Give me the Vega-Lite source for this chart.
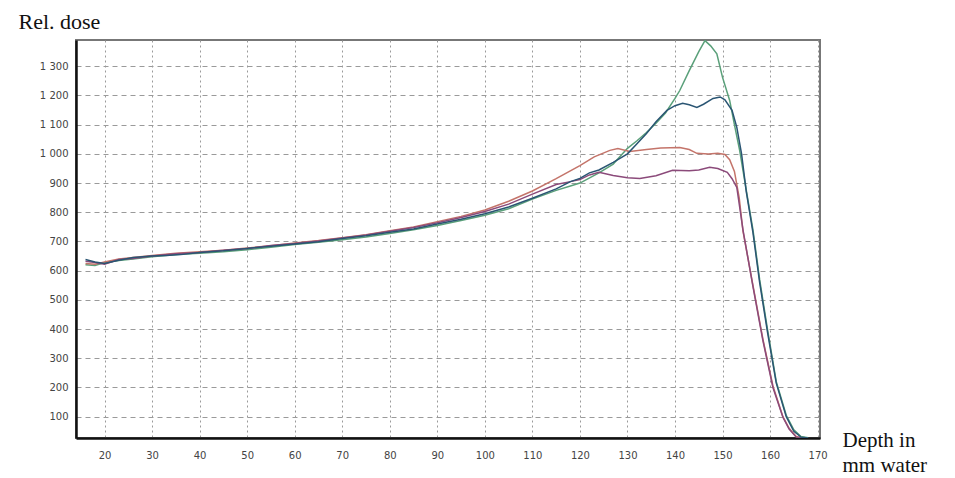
{
  "$schema": "https://vega.github.io/schema/vega-lite/v6.json",
  "width": 744,
  "height": 398,
  "autosize": {"type": "none"},
  "padding": {"left": 76, "top": 40, "right": 135, "bottom": 40},
  "background": "white",
  "config": {
    "view": {"stroke": "#777777", "strokeWidth": 2},
    "axis": {"labelFont": "DejaVu Sans", "labelFontSize": 10, "labelColor": "#444444", "ticks": false, "gridColor": "#9a9a9a", "gridWidth": 1, "domainColor": "#111111", "domainWidth": 2.5}
  },
  "data": {"values": [
    {"s":"g","x":16,"y":620},{"s":"g","x":18,"y":618},{"s":"g","x":20,"y":628},{"s":"g","x":23,"y":635},{"s":"g","x":26,"y":640},{"s":"g","x":30,"y":648},{"s":"g","x":35,"y":655},{"s":"g","x":40,"y":660},{"s":"g","x":45,"y":665},{"s":"g","x":50,"y":672},{"s":"g","x":55,"y":680},{"s":"g","x":60,"y":690},{"s":"g","x":65,"y":697},{"s":"g","x":70,"y":706},{"s":"g","x":75,"y":715},{"s":"g","x":80,"y":727},{"s":"g","x":85,"y":740},{"s":"g","x":90,"y":755},{"s":"g","x":95,"y":772},{"s":"g","x":100,"y":790},{"s":"g","x":105,"y":812},{"s":"g","x":110,"y":845},{"s":"g","x":115,"y":875},{"s":"g","x":118,"y":890},{"s":"g","x":120,"y":900},{"s":"g","x":124,"y":935},{"s":"g","x":127,"y":965},{"s":"g","x":130,"y":1019},{"s":"g","x":132,"y":1045},{"s":"g","x":134,"y":1073},{"s":"g","x":136,"y":1105},{"s":"g","x":138,"y":1140},{"s":"g","x":140,"y":1190},{"s":"g","x":141,"y":1217},{"s":"g","x":143,"y":1285},{"s":"g","x":145,"y":1350},{"s":"g","x":146.3,"y":1388},{"s":"g","x":147.5,"y":1370},{"s":"g","x":148.8,"y":1343},{"s":"g","x":150,"y":1262},{"s":"g","x":151.5,"y":1183},{"s":"g","x":152.5,"y":1100},{"s":"g","x":153.6,"y":1012},{"s":"g","x":155,"y":875},{"s":"g","x":156.4,"y":740},{"s":"g","x":157.8,"y":570},{"s":"g","x":159.5,"y":395},{"s":"g","x":161.3,"y":220},{"s":"g","x":163.4,"y":105},{"s":"g","x":165,"y":55},{"s":"g","x":166.5,"y":32},{"s":"g","x":168,"y":28},
    {"s":"r","x":16,"y":625},{"s":"r","x":18,"y":622},{"s":"r","x":20,"y":630},{"s":"r","x":23,"y":640},{"s":"r","x":26,"y":645},{"s":"r","x":30,"y":652},{"s":"r","x":35,"y":660},{"s":"r","x":40,"y":665},{"s":"r","x":45,"y":670},{"s":"r","x":50,"y":678},{"s":"r","x":55,"y":685},{"s":"r","x":60,"y":695},{"s":"r","x":65,"y":703},{"s":"r","x":70,"y":713},{"s":"r","x":75,"y":723},{"s":"r","x":80,"y":737},{"s":"r","x":85,"y":750},{"s":"r","x":90,"y":768},{"s":"r","x":95,"y":786},{"s":"r","x":100,"y":808},{"s":"r","x":105,"y":838},{"s":"r","x":110,"y":873},{"s":"r","x":115,"y":915},{"s":"r","x":120,"y":960},{"s":"r","x":123,"y":990},{"s":"r","x":126.3,"y":1012},{"s":"r","x":128,"y":1018},{"s":"r","x":130.5,"y":1008},{"s":"r","x":134,"y":1015},{"s":"r","x":137,"y":1020},{"s":"r","x":141,"y":1022},{"s":"r","x":143,"y":1015},{"s":"r","x":144.6,"y":1002},{"s":"r","x":147,"y":1000},{"s":"r","x":149,"y":1002},{"s":"r","x":150.5,"y":998},{"s":"r","x":151.5,"y":980},{"s":"r","x":152.5,"y":940},{"s":"r","x":153.5,"y":850},{"s":"r","x":154.3,"y":735},{"s":"r","x":156.4,"y":550},{"s":"r","x":158.5,"y":365},{"s":"r","x":160.6,"y":205},{"s":"r","x":162.7,"y":100},{"s":"r","x":164,"y":60},{"s":"r","x":165.5,"y":32},{"s":"r","x":167,"y":27},
    {"s":"p","x":16,"y":632},{"s":"p","x":18,"y":628},{"s":"p","x":20,"y":622},{"s":"p","x":23,"y":638},{"s":"p","x":26,"y":642},{"s":"p","x":30,"y":650},{"s":"p","x":35,"y":658},{"s":"p","x":40,"y":662},{"s":"p","x":45,"y":670},{"s":"p","x":50,"y":676},{"s":"p","x":55,"y":686},{"s":"p","x":60,"y":693},{"s":"p","x":65,"y":702},{"s":"p","x":70,"y":712},{"s":"p","x":75,"y":722},{"s":"p","x":80,"y":735},{"s":"p","x":85,"y":748},{"s":"p","x":90,"y":764},{"s":"p","x":95,"y":782},{"s":"p","x":100,"y":803},{"s":"p","x":105,"y":828},{"s":"p","x":110,"y":862},{"s":"p","x":115,"y":895},{"s":"p","x":118,"y":905},{"s":"p","x":120,"y":912},{"s":"p","x":122,"y":928},{"s":"p","x":124,"y":937},{"s":"p","x":127,"y":926},{"s":"p","x":130,"y":918},{"s":"p","x":132.6,"y":916},{"s":"p","x":136,"y":925},{"s":"p","x":139.5,"y":944},{"s":"p","x":143,"y":942},{"s":"p","x":145,"y":945},{"s":"p","x":147.3,"y":954},{"s":"p","x":149,"y":950},{"s":"p","x":151,"y":937},{"s":"p","x":152,"y":915},{"s":"p","x":153,"y":885},{"s":"p","x":154.3,"y":740},{"s":"p","x":156.4,"y":545},{"s":"p","x":158.5,"y":360},{"s":"p","x":160.6,"y":200},{"s":"p","x":162.7,"y":98},{"s":"p","x":164,"y":58},{"s":"p","x":165.5,"y":30},{"s":"p","x":167,"y":27},
    {"s":"b","x":16,"y":638},{"s":"b","x":18,"y":630},{"s":"b","x":20,"y":625},{"s":"b","x":23,"y":636},{"s":"b","x":26,"y":645},{"s":"b","x":30,"y":650},{"s":"b","x":33,"y":652},{"s":"b","x":36,"y":655},{"s":"b","x":40,"y":662},{"s":"b","x":45,"y":668},{"s":"b","x":50,"y":676},{"s":"b","x":55,"y":684},{"s":"b","x":60,"y":691},{"s":"b","x":65,"y":699},{"s":"b","x":70,"y":710},{"s":"b","x":75,"y":720},{"s":"b","x":80,"y":732},{"s":"b","x":85,"y":743},{"s":"b","x":90,"y":760},{"s":"b","x":95,"y":776},{"s":"b","x":100,"y":795},{"s":"b","x":105,"y":818},{"s":"b","x":110,"y":848},{"s":"b","x":115,"y":880},{"s":"b","x":118,"y":905},{"s":"b","x":120,"y":916},{"s":"b","x":122,"y":935},{"s":"b","x":124,"y":945},{"s":"b","x":127,"y":971},{"s":"b","x":130,"y":1000},{"s":"b","x":132,"y":1035},{"s":"b","x":134,"y":1070},{"s":"b","x":136,"y":1110},{"s":"b","x":138.3,"y":1149},{"s":"b","x":140,"y":1165},{"s":"b","x":141.6,"y":1173},{"s":"b","x":143,"y":1168},{"s":"b","x":144.6,"y":1159},{"s":"b","x":146,"y":1170},{"s":"b","x":148,"y":1190},{"s":"b","x":149.5,"y":1195},{"s":"b","x":150.5,"y":1185},{"s":"b","x":152,"y":1149},{"s":"b","x":153,"y":1091},{"s":"b","x":154,"y":1000},{"s":"b","x":155,"y":870},{"s":"b","x":156.4,"y":730},{"s":"b","x":157.8,"y":560},{"s":"b","x":159.5,"y":385},{"s":"b","x":161.3,"y":215},{"s":"b","x":163.4,"y":100},{"s":"b","x":165,"y":50},{"s":"b","x":166.5,"y":30},{"s":"b","x":168,"y":27}
  ]},
  "mark": {"type": "line", "strokeWidth": 1.5, "clip": true, "interpolate": "linear"},
  "encoding": {
    "x": {"field": "x", "type": "quantitative",
      "scale": {"domain": [14, 170.5], "nice": false, "zero": false},
      "axis": {"values": [20,30,40,50,60,70,80,90,100,110,120,130,140,150,160,170], "labelPadding": 12, "gridDash": [2,3],
        "title": ["Depth in", "mm water"], "titleFont": "Liberation Serif", "titleFontSize": 21, "titleFontWeight": "normal", "titleColor": "#111111",
        "titleAnchor": "start", "titleAlign": "left", "titleBaseline": "alphabetic", "titleLineHeight": 25, "titleX": 766, "titleY": 8}},
    "y": {"field": "y", "type": "quantitative",
      "scale": {"domain": [27, 1390], "nice": false, "zero": false},
      "axis": {"values": [100,200,300,400,500,600,700,800,900,1000,1100,1200,1300], "labelPadding": 8, "gridDash": [5,4],
        "labelExpr": "replace(format(datum.value, ','), ',', ' ')",
        "title": "Rel. dose", "titleFont": "Liberation Serif", "titleFontSize": 22, "titleFontWeight": "normal", "titleColor": "#111111",
        "titleAngle": 0, "titleAlign": "left", "titleBaseline": "alphabetic", "titleX": -58, "titleY": -12}},
    "color": {"field": "s", "type": "nominal", "legend": null,
      "scale": {"domain": ["g","r","p","b"], "range": ["#5aa07a", "#c4746a", "#8b4a7a", "#2a5573"]}},
    "order": {"field": "x", "type": "quantitative"}
  }
}
